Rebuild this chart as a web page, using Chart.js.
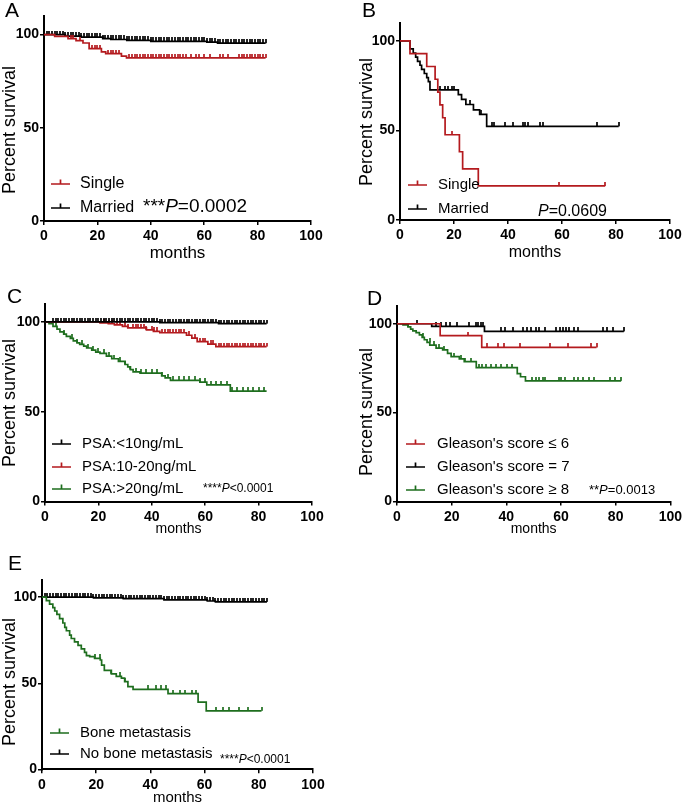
<!DOCTYPE html>
<html lang="en">
<head>
    <meta charset="UTF-8">
    <title>Kaplan-Meier survival curves</title>
    <script src="https://cdn.jsdelivr.net/npm/chart.js@4.4.0/dist/chart.umd.min.js"></script>
    <style>
        body {
            margin: 0;
            background-color: #ffffff;
            font-family: "Liberation Sans", Arial, sans-serif;
        }
        #figure {
            position: relative;
            width: 685px;
            height: 805px;
        }
        #figure canvas {
            position: absolute;
        }
    </style>
</head>
<body>

<div id="figure">
    <canvas id="chartA" width="340" height="270" style="left:0px;top:0px"></canvas>
    <canvas id="chartB" width="345" height="270" style="left:340px;top:0px"></canvas>
    <canvas id="chartC" width="340" height="260" style="left:0px;top:280px"></canvas>
    <canvas id="chartD" width="345" height="260" style="left:340px;top:280px"></canvas>
    <canvas id="chartE" width="340" height="260" style="left:0px;top:545px"></canvas>
</div>

<script>
    // ---- data: step times (months), survival (%) and censored times ----
    var xTicks = [0, 20, 40, 60, 80, 100];
    var yTicks = [0, 50, 100];

    // A: marital status
    var aSingleTime = [0, 4, 9, 12, 14.6, 16.9, 21.5, 23.1, 29, 30.9, 83];
    var aSingleSurv = [100, 99.1, 97.9, 96.8, 95.5, 92.5, 90.8, 89.8, 88.5, 87.5, 87.5];
    var aSingleCens = [10, 11, 13.5, 18, 19, 20, 21, 24, 25, 26, 27, 28, 32, 33, 34, 35, 36, 37, 38, 39, 40, 41, 42, 43, 44, 45, 46, 47, 48, 49, 50, 51, 52, 53, 55, 57, 58, 60, 62, 66, 67, 69, 73, 74, 75, 76, 77, 78, 79, 80, 81, 82, 83];
    var aMarriedTime = [0, 8, 14, 22, 25, 31, 40, 61, 65, 83];
    var aMarriedSurv = [100, 99.2, 98.7, 97.9, 97.4, 96.9, 96.4, 96, 95.4, 95.4];
    var aMarriedCens = [1, 2, 3, 4, 5, 6, 7, 8, 9, 10, 11, 12, 13, 14, 15, 16, 17, 18, 19, 20, 21, 22, 23, 24, 25, 26, 27, 28, 29, 30, 31, 32, 33, 34, 35, 36, 37, 38, 39, 40, 41, 42, 43, 44, 45, 46, 47, 48, 49, 50, 51, 52, 53, 54, 55, 56, 57, 58, 59, 60, 61, 62, 63, 64, 65, 66, 67, 68, 69, 70, 71, 72, 73, 74, 75, 76, 77, 78, 79, 80, 81, 82, 83];

    // B: marital status, second cohort
    var bSingleTime = [0, 3.7, 9.9, 13, 14, 14.8, 15.8, 16.7, 22, 23.2, 29, 76];
    var bSingleSurv = [100, 92.9, 85.7, 78.6, 71.4, 64.3, 57.1, 47.6, 38.1, 28.6, 19, 19];
    var bSingleCens = [19.1, 59, 76];
    var bMarriedTime = [0, 3.7, 4.9, 5.8, 6.5, 7.4, 8, 9, 9.9, 10.5, 11.1, 21.6, 22.8, 24.4, 27.2, 29.5, 32.1, 81];
    var bMarriedSurv = [100, 95.5, 93.2, 91, 88.6, 86.4, 84.1, 81.8, 79.5, 77.3, 72.7, 70, 67.3, 64.5, 61.5, 59, 52.3, 52.3];
    var bMarriedCens = [14.8, 16.7, 17.9, 19.1, 20.1, 25.9, 30, 34, 34.8, 39, 42, 45.4, 46.3, 47.5, 51.8, 53, 73, 81];

    // C: PSA level
    var cLowTime = [0, 43, 65, 83];
    var cLowSurv = [100, 99.6, 99.1, 99.1];
    var cLowCens = [3, 4, 5, 6, 7, 8, 9, 10, 11, 12, 13, 14, 15, 16, 17, 18, 19, 20, 21, 22, 23, 24, 25, 26, 27, 28, 29, 30, 31, 32, 33, 34, 35, 36, 37, 38, 39, 40, 41, 42, 43, 44, 45, 46, 47, 48, 49, 50, 51, 52, 53, 54, 55, 56, 57, 58, 59, 60, 61, 62, 63, 64, 65, 66, 67, 68, 69, 70, 71, 72, 73, 74, 75, 76, 77, 78, 79, 80, 81, 82, 83];
    var cMidTime = [0, 20.6, 23.7, 26, 29, 31, 38, 40.6, 43, 53, 55, 57, 61, 64, 83];
    var cMidSurv = [100, 99.5, 99, 98.4, 97.5, 96.7, 95.6, 94.7, 94, 92.6, 91, 89, 87.7, 86.3, 86.3];
    var cMidCens = [22, 24, 25, 27, 28, 30, 31, 33, 34, 35, 36, 37, 38, 40, 41, 42, 44, 45, 46, 47, 48, 49, 50, 51, 52, 54, 56, 58, 59, 60, 62, 63, 65, 66, 67, 68, 69, 70, 71, 72, 73, 74, 75, 76, 77, 78, 79, 80, 81, 82, 83];
    var cHighTime = [0, 1.5, 3, 4.5, 5.6, 7, 8, 9.5, 10.6, 12, 13, 14.5, 15.6, 17.5, 19, 20.6, 23, 25, 27.5, 30, 31, 32, 33, 35.6, 43.7, 45, 47, 58, 60.6, 69.4, 83];
    var cHighSurv = [100, 99, 97.5, 96, 94.5, 93.2, 92, 90.8, 89.5, 88.4, 87.5, 86.5, 85.5, 84.3, 83.2, 82.5, 81, 79.5, 78, 76.3, 75, 73.5, 72.2, 71.5, 70, 68.8, 67.5, 66.5, 65, 61.5, 61.5];
    var cHighCens = [4, 7, 10, 12, 14, 16, 18, 20, 22, 24, 26, 28, 30, 32, 34, 36, 38, 40, 42, 44, 46, 48, 50, 52, 54, 56, 58, 60, 62, 64, 66, 68, 70, 72, 74, 76, 78, 80, 82];

    // D: Gleason score
    var dLowTime = [0, 15.8, 31, 73];
    var dLowSurv = [100, 93.3, 86.7, 86.7];
    var dLowCens = [26, 33, 37, 39, 45, 56, 62.5, 71, 73];
    var dMidTime = [0, 12.7, 32, 83];
    var dMidSurv = [100, 98.5, 95.7, 95.7];
    var dMidCens = [7.3, 14.3, 16.1, 17.9, 19.5, 21.8, 26.4, 28.8, 29.8, 30.7, 31.4, 38.2, 39.4, 42.5, 46, 47.4, 49.2, 50.7, 51.9, 54, 58.2, 59.6, 60.6, 61.8, 63, 64.6, 66.4, 75.5, 77, 79, 83];
    var dHighTime = [0, 2.2, 4, 5, 5.8, 7, 8.2, 9.2, 10, 11, 12, 14.3, 16.7, 18.5, 19.8, 22.8, 24.6, 29, 44, 45.2, 47, 82];
    var dHighSurv = [100, 99.4, 98.2, 97, 96, 95, 93.7, 92.3, 91, 89.5, 88, 86.3, 85.3, 83.4, 81.5, 80.2, 78.7, 75.3, 72, 70.2, 67.9, 67.9];
    var dHighCens = [4, 9.5, 11.9, 13.7, 15.3, 17.3, 21, 23.5, 25, 27, 30, 31, 32.5, 34.3, 36.1, 37.9, 40.4, 42.2, 49.5, 50.7, 51.9, 53.3, 54.3, 59.2, 60.1, 61.6, 64.6, 66.2, 68.2, 70.3, 71.9, 77.9, 79.8, 82];

    // E: bone metastasis
    var eBoneTime = [0, 1.6, 2.8, 4, 4.7, 5.5, 6.5, 7.7, 8.4, 9, 10.2, 10.8, 12, 13.3, 14.5, 15.7, 16.4, 17.6, 19.4, 21.5, 22, 23, 25.6, 27.4, 29.3, 30.5, 31.7, 33.6, 46.5, 57.6, 60.6, 81];
    var eBoneSurv = [100, 98, 96, 94, 92, 90, 87.5, 85, 82.5, 80.5, 78, 76, 74, 72, 70, 68, 66, 65.5, 64.5, 63.5, 60.5, 57.5, 55.5, 54, 53, 51, 48, 46.5, 44, 39, 34, 34];
    var eBoneCens = [19.4, 21.3, 25.6, 28.7, 30.5, 39, 42.2, 44, 45.6, 48.3, 50.8, 52.6, 55.5, 57, 64.3, 66.8, 69, 72.7, 76, 81];
    var eNoBoneTime = [0, 19, 30, 45, 61, 64, 83];
    var eNoBoneSurv = [100, 99.6, 99.2, 98.5, 97.8, 97.3, 97.3];
    var eNoBoneCens = [1, 2, 3, 4, 5, 6, 7, 8, 9, 10, 11, 12, 13, 14, 15, 16, 17, 18, 19, 20, 21, 22, 23, 24, 25, 26, 27, 28, 29, 30, 31, 32, 33, 34, 35, 36, 37, 38, 39, 40, 41, 42, 43, 44, 45, 46, 47, 48, 49, 50, 51, 52, 53, 54, 55, 56, 57, 58, 59, 60, 61, 62, 63, 64, 65, 66, 67, 68, 69, 70, 71, 72, 73, 74, 75, 76, 77, 78, 79, 80, 81, 82, 83];

    var FONT = '"Liberation Sans", Arial, Helvetica, sans-serif';
    var RED = '#b41a1e';
    var BLACK = '#000000';
    var GREEN = '#1e6e1e';

    // layout of each panel (page coordinates for the drawn texts)
    var panels = [
        {
            id: 'chartA', left: 0, top: 0, yw: 44, padTop: 16, padRight: 29, xh: 49,
            months: {size: 17, pad: 8}, yTitle: {x: 10, y: 130}, letter: {text: 'A', x: 5, y: 17},
            legend: {lineX: 51, textX: 80, size: 16},
            pValue: {x: 143, y: 207, size: 19, parts: [['***', false], ['P', true], ['=0.0002', false]]},
            curves: [
                {label: 'Single', color: RED, time: aSingleTime, surv: aSingleSurv, cens: aSingleCens, legendY: 184},
                {label: 'Married', color: BLACK, time: aMarriedTime, surv: aMarriedSurv, cens: aMarriedCens, legendY: 208}
            ]
        },
        {
            id: 'chartB', left: 340, top: 0, yw: 60, padTop: 23, padRight: 15, xh: 50,
            months: {size: 16, pad: 9}, yTitle: {x: 367, y: 122}, letter: {text: 'B', x: 362, y: 17},
            legend: {lineX: 408, textX: 438, size: 15},
            pValue: {x: 538, y: 212, size: 16, parts: [['P', true], ['=0.0609', false]]},
            curves: [
                {label: 'Single', color: RED, time: bSingleTime, surv: bSingleSurv, cens: bSingleCens, legendY: 185},
                {label: 'Married', color: BLACK, time: bMarriedTime, surv: bMarriedSurv, cens: bMarriedCens, legendY: 209}
            ]
        },
        {
            id: 'chartC', left: 0, top: 280, yw: 45, padTop: 24, padRight: 28, xh: 38.5,
            months: {size: 14, pad: 4}, yTitle: {x: 10, y: 403}, letter: {text: 'C', x: 7, y: 303},
            legend: {lineX: 52, textX: 82, size: 15},
            pValue: {x: 203, y: 489, size: 12, parts: [['****', false], ['P', true], ['<0.0001', false]]},
            curves: [
                {label: 'PSA:<10ng/mL', color: BLACK, time: cLowTime, surv: cLowSurv, cens: cLowCens, legendY: 444},
                {label: 'PSA:10-20ng/mL', color: RED, time: cMidTime, surv: cMidSurv, cens: cMidCens, legendY: 467},
                {label: 'PSA:>20ng/mL', color: GREEN, time: cHighTime, surv: cHighSurv, cens: cHighCens, legendY: 489}
            ]
        },
        {
            id: 'chartD', left: 340, top: 280, yw: 57, padTop: 26, padRight: 13, xh: 38.5,
            months: {size: 14, pad: 4}, yTitle: {x: 367, y: 412}, letter: {text: 'D', x: 367, y: 305},
            legend: {lineX: 406, textX: 437, size: 15},
            pValue: {x: 589, y: 490, size: 13, parts: [['**', false], ['P', true], ['=0.0013', false]]},
            curves: [
                {label: 'Gleason\'s score \u2264 6', color: RED, time: dLowTime, surv: dLowSurv, cens: dLowCens, legendY: 444},
                {label: 'Gleason\'s score = 7', color: BLACK, time: dMidTime, surv: dMidSurv, cens: dMidCens, legendY: 467},
                {label: 'Gleason\'s score \u2265 8', color: GREEN, time: dHighTime, surv: dHighSurv, cens: dHighCens, legendY: 490}
            ]
        },
        {
            id: 'chartE', left: 0, top: 545, yw: 42, padTop: 35, padRight: 27, xh: 35.7,
            months: {size: 15, pad: 0}, yTitle: {x: 10, y: 682}, letter: {text: 'E', x: 8, y: 570},
            legend: {lineX: 50, textX: 80, size: 15},
            pValue: {x: 220, y: 760, size: 12, parts: [['****', false], ['P', true], ['<0.0001', false]]},
            curves: [
                {label: 'Bone metastasis', color: GREEN, time: eBoneTime, surv: eBoneSurv, cens: eBoneCens, legendY: 733},
                {label: 'No bone metastasis', color: BLACK, time: eNoBoneTime, surv: eNoBoneSurv, cens: eNoBoneCens, legendY: 754}
            ]
        }
    ];

    // survival value of the step curve at time t
    function survAt(times, surv, t) {
        var s = surv[0];
        for (var i = 0; i < times.length; i++) {
            if (times[i] <= t) s = surv[i];
        }
        return s;
    }

    // small upward tick used for censored observations
    function censorMark(color) {
        var c = document.createElement('canvas');
        c.width = 2;
        c.height = 8;
        var g = c.getContext('2d');
        g.globalAlpha = 0.85;
        g.fillStyle = color;
        g.fillRect(0, 0, 2, 4);
        return c;
    }

    // draws letters, y titles, legends and p values on top of the chart
    var decorPlugin = {
        id: 'decor',
        afterDraw: function(chart, args, p) {
            var ctx = chart.ctx;
            var ox = p.left, oy = p.top;
            ctx.save();
            ctx.fillStyle = '#000';

            ctx.font = '21px ' + FONT;
            ctx.textBaseline = 'alphabetic';
            ctx.textAlign = 'left';
            ctx.fillText(p.letter.text, p.letter.x - ox, p.letter.y - oy);

            ctx.save();
            ctx.translate(p.yTitle.x - ox, p.yTitle.y - oy);
            ctx.rotate(-Math.PI / 2);
            ctx.font = '18px ' + FONT;
            ctx.textAlign = 'center';
            ctx.textBaseline = 'middle';
            ctx.fillText('Percent survival', 0, 0);
            ctx.restore();

            ctx.textBaseline = 'middle';
            p.curves.forEach(function(c) {
                var y = c.legendY - oy;
                var x0 = p.legend.lineX - ox;
                ctx.strokeStyle = c.color;
                ctx.lineWidth = 1.7;
                ctx.beginPath();
                ctx.moveTo(x0, y);
                ctx.lineTo(x0 + 19, y);
                ctx.moveTo(x0 + 9.5, y);
                ctx.lineTo(x0 + 9.5, y - 4.5);
                ctx.stroke();
                ctx.fillStyle = '#000';
                ctx.font = p.legend.size + 'px ' + FONT;
                ctx.fillText(c.label, p.legend.textX - ox, y);
            });

            var x = p.pValue.x - ox;
            p.pValue.parts.forEach(function(part) {
                ctx.font = (part[1] ? 'italic ' : '') + p.pValue.size + 'px ' + FONT;
                ctx.fillText(part[0], x, p.pValue.y - oy);
                x += ctx.measureText(part[0]).width;
            });
            ctx.restore();
        }
    };

    panels.forEach(function(p) {
        var datasets = [];
        p.curves.forEach(function(c) {
            datasets.push({
                data: c.time.map(function(t, i) { return {x: t, y: c.surv[i]}; }),
                borderColor: c.color,
                borderWidth: 1.7,
                stepped: true,
                pointRadius: 0,
                fill: false
            });
            datasets.push({
                data: c.cens.map(function(t) { return {x: t, y: survAt(c.time, c.surv, t)}; }),
                showLine: false,
                pointStyle: censorMark(c.color),
                pointRadius: 4
            });
        });

        var axisGrid = {drawOnChartArea: false, drawTicks: true, tickLength: 4, color: '#000', lineWidth: 1.5};
        var axisBorder = {color: '#000', width: 2};
        var tickFont = {family: FONT, size: 14, weight: 'bold'};

        new Chart(document.getElementById(p.id), {
            type: 'line',
            data: {datasets: datasets},
            options: {
                responsive: false,
                animation: false,
                layout: {padding: {top: p.padTop, right: p.padRight, left: 0, bottom: 0}},
                plugins: {
                    legend: {display: false},
                    tooltip: {enabled: false},
                    decor: p
                },
                scales: {
                    x: {
                        type: 'linear',
                        min: 0,
                        max: 100,
                        afterBuildTicks: function(s) { s.ticks = xTicks.map(function(v) { return {value: v}; }); },
                        ticks: {font: tickFont, color: '#000', padding: 3, maxRotation: 0},
                        grid: axisGrid,
                        border: axisBorder,
                        title: {
                            display: true, text: 'months', color: '#000',
                            font: {family: FONT, size: p.months.size, lineHeight: 1},
                            padding: {top: 0, bottom: p.months.pad}
                        },
                        afterFit: function(s) { s.height = p.xh; }
                    },
                    y: {
                        type: 'linear',
                        min: 0,
                        max: 110,
                        afterBuildTicks: function(s) { s.ticks = yTicks.map(function(v) { return {value: v}; }); },
                        ticks: {font: tickFont, color: '#000', padding: 1},
                        grid: axisGrid,
                        border: axisBorder,
                        afterFit: function(s) { s.width = p.yw; }
                    }
                }
            },
            plugins: [decorPlugin]
        });
    });
</script>
</body>
</html>
